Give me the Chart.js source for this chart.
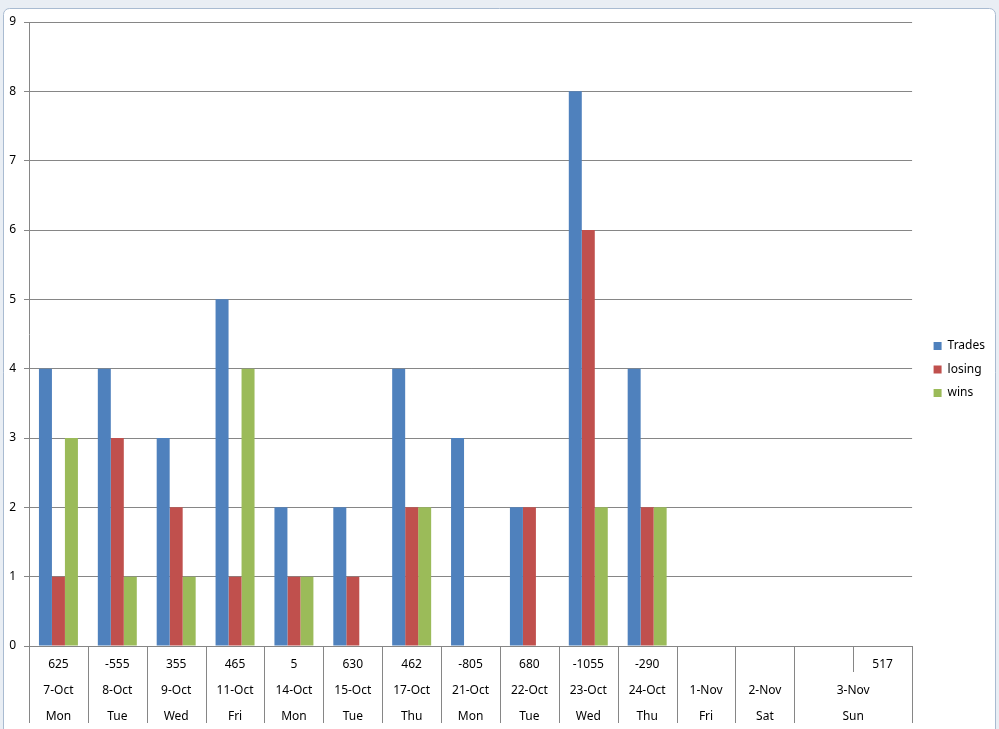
<!DOCTYPE html>
<html>
<head>
<meta charset="utf-8">
<script src="https://cdn.jsdelivr.net/npm/chart.js@4/dist/chart.umd.min.js"></script>
<style>
  html, body { margin: 0; padding: 0; background: #fff; }
  #wrap { width: 999px; height: 729px; }
</style>
</head>
<body>
<div id="wrap"><canvas id="tradesChart" width="999" height="729"></canvas></div>
<script>
// category rows, top to bottom
var pnl = ['625', '-555', '355', '465', '5', '630', '462', '-805', '680', '-1055', '-290', '', '', '', '517'];
var dates = ['7-Oct', '8-Oct', '9-Oct', '11-Oct', '14-Oct', '15-Oct', '17-Oct', '21-Oct', '22-Oct', '23-Oct', '24-Oct', '1-Nov', '2-Nov', '3-Nov', '3-Nov'];
var days = ['Mon', 'Tue', 'Wed', 'Fri', 'Mon', 'Tue', 'Thu', 'Mon', 'Tue', 'Wed', 'Thu', 'Fri', 'Sat', 'Sun', 'Sun'];

// series
var trades = [4, 4, 3, 5, 2, 2, 4, 3, 2, 8, 4, null, null, null, null];
var losing = [1, 3, 2, 1, 1, 1, 2, 0, 2, 6, 2, null, null, null, null];
var wins = [3, 1, 1, 4, 1, 0, 2, 0, 0, 2, 2, null, null, null, null];

var yTicks = [0, 1, 2, 3, 4, 5, 6, 7, 8, 9];

var FONT = "'Noto Sans', sans-serif";
var LINE = '#868686';
var ROW = 26;
var LABEL_PAD = 6;

function isMerged(i) {
    return (i > 0 && dates[i] === dates[i - 1]) || (i < dates.length - 1 && dates[i] === dates[i + 1]);
}

// excel-ish frame around the chart
var frame = {
    id: 'frame',
    beforeDraw: function (chart) {
        var ctx = chart.ctx;
        ctx.save();
        ctx.fillStyle = '#e9eef4';
        ctx.fillRect(0, 0, chart.width, chart.height);
        ctx.fillStyle = '#ffffff';
        ctx.strokeStyle = '#a9bbd1';
        ctx.lineWidth = 1;
        ctx.beginPath();
        ctx.roundRect(3.5, 8.5, chart.width - 7, chart.height, 6);
        ctx.fill();
        ctx.stroke();
        ctx.restore();
    }
};

// move the legend a bit closer to where excel puts it
var legendNudge = {
    id: 'legendNudge',
    afterLayout: function (chart) {
        var l = chart.legend;
        l.left += 10; l.right += 10;
        l.top -= 6; l.bottom -= 6;
    }
};

// category separators + merged group labels
var axisGroups = {
    id: 'axisGroups',
    afterDraw: function (chart) {
        var x = chart.scales.x, ctx = chart.ctx;
        var top = x.top, bottom = 723;
        ctx.save();
        ctx.strokeStyle = LINE;
        ctx.lineWidth = 1;
        for (var i = 0; i <= dates.length; i++) {
            var px = Math.round(x.getPixelForValue(i - 0.5)) + 0.5;
            var inner = i > 0 && i < dates.length && dates[i] === dates[i - 1];
            ctx.beginPath();
            ctx.moveTo(px, top);
            ctx.lineTo(px, inner ? top + ROW : bottom);
            ctx.stroke();
        }
        ctx.fillStyle = '#000';
        ctx.font = '12px ' + FONT;
        ctx.textAlign = 'center';
        ctx.textBaseline = 'middle';
        for (var j = 0; j < dates.length - 1; j++) {
            if (dates[j] === dates[j + 1] && (j === 0 || dates[j - 1] !== dates[j])) {
                var k = j;
                while (k + 1 < dates.length && dates[k + 1] === dates[j]) k++;
                var cx = (x.getPixelForValue(j) + x.getPixelForValue(k)) / 2;
                ctx.fillText(dates[j], cx, top + LABEL_PAD + ROW + ROW / 2);
                ctx.fillText(days[j], cx, top + LABEL_PAD + 2 * ROW + ROW / 2);
            }
        }
        ctx.restore();
    }
};

var ctx = document.getElementById('tradesChart');
var myChart = new Chart(ctx, {
    type: 'bar',
    data: {
        labels: dates,
        datasets: [{
            label: 'Trades',
            data: trades,
            backgroundColor: '#4f81bd'
        }, {
            label: 'losing',
            data: losing,
            backgroundColor: '#c0504d'
        }, {
            label: 'wins',
            data: wins,
            backgroundColor: '#9bbb59'
        }]
    },
    options: {
        responsive: false,
        animation: false,
        layout: {
            padding: { left: 9, right: 14, top: 22, bottom: 0 }
        },
        datasets: {
            bar: {
                categoryPercentage: 0.662,
                barPercentage: 1,
                borderWidth: 0
            }
        },
        scales: {
            x: {
                offset: true,
                afterFit: function (scale) { scale.height = 83; },
                grid: { display: false, drawTicks: false, tickLength: 0 },
                border: { display: true, color: LINE, width: 1 },
                ticks: {
                    autoSkip: false,
                    maxRotation: 0,
                    padding: LABEL_PAD,
                    color: '#000',
                    font: { family: FONT, size: 12, lineHeight: ROW / 12 },
                    callback: function (value, index) {
                        if (isMerged(index)) return [pnl[index], '', ''];
                        return [pnl[index], dates[index], days[index]];
                    }
                }
            },
            y: {
                min: 0,
                max: 9,
                afterFit: function (scale) { scale.width = 20; },
                afterBuildTicks: function (scale) {
                    scale.ticks = yTicks.map(function (v) { return { value: v }; });
                },
                grid: { color: LINE, tickLength: 5, tickColor: LINE },
                border: { display: true, color: LINE, width: 1 },
                ticks: {
                    padding: 8,
                    color: '#000',
                    font: { family: FONT, size: 12 }
                }
            }
        },
        plugins: {
            legend: {
                position: 'right',
                labels: {
                    boxWidth: 8,
                    boxHeight: 8,
                    padding: 11.5,
                    color: '#000',
                    font: { family: FONT, size: 12 }
                }
            },
            tooltip: { enabled: false }
        }
    },
    plugins: [frame, legendNudge, axisGroups]
});
</script>
</body>
</html>
